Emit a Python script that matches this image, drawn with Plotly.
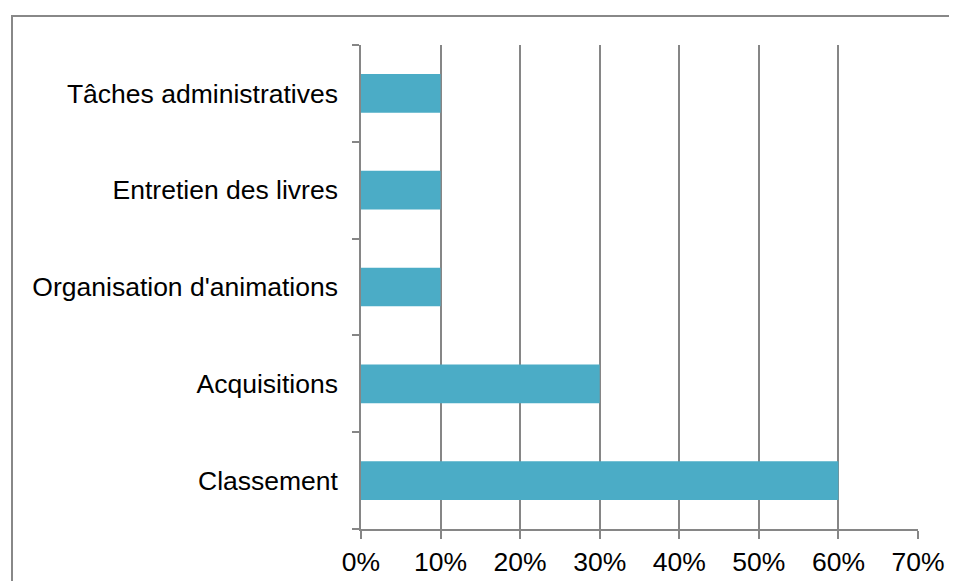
import plotly.graph_objects as go

categories = ["Classement", "Acquisitions", "Organisation d'animations",
              "Entretien des livres", "Tâches administratives"]
values = [0.60, 0.30, 0.10, 0.10, 0.10]
x_ticks = [0, 0.1, 0.2, 0.3, 0.4, 0.5, 0.6, 0.7]
x_labels = ["0%", "10%", "20%", "30%", "40%", "50%", "60%", "70%"]

W, H = 957, 581
OFF = 8  # page body margin
L, T = 361 - OFF, 45 - OFF
R = W - (918 - OFF)
B = H - (529 - OFF)
pw, ph = W - L - R, H - T - B

def px(x):
    return (x - OFF - L) / pw

def py(y):
    return 1 - (y - OFF - T) / ph

fig = go.Figure(go.Bar(
    x=values, y=categories, orientation="h",
    marker=dict(color="#4BACC6", line=dict(width=0)),
    width=0.4, hoverinfo="skip",
))

fig.update_layout(
    width=W, height=H,
    margin=dict(l=L, r=R, t=T, b=B),
    paper_bgcolor="white", plot_bgcolor="white",
    font=dict(family="Liberation Sans, Arial, sans-serif", size=26.5, color="#000000"),
    showlegend=False,
    xaxis=dict(
        range=[0, 0.7], tickvals=x_ticks, ticktext=x_labels,
        showgrid=True, gridcolor="#868686", gridwidth=1.5,
        showline=True, linecolor="#868686", linewidth=1.5,
        ticks="outside", ticklen=8, tickcolor="#868686", tickwidth=1.5,
        zeroline=False, fixedrange=True,
    ),
    yaxis=dict(
        type="category", categoryorder="array", categoryarray=categories,
        range=[-0.5, 4.5],
        showline=True, linecolor="#868686", linewidth=1.5,
        ticks="outside", ticklen=7, tickcolor="#868686", tickwidth=1.5,
        tickson="boundaries", ticklabelstandoff=16,
        showgrid=False, zeroline=False, fixedrange=True,
    ),
    shapes=[dict(
        type="rect", xref="paper", yref="paper",
        x0=px(12), x1=px(1000), y0=py(16), y1=py(650),
        line=dict(color="#888888", width=2), fillcolor="rgba(0,0,0,0)",
        layer="below",
    )],
)

fig.write_html("out.html")
